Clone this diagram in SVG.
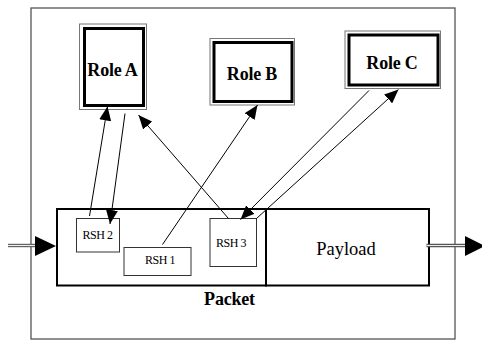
<svg xmlns="http://www.w3.org/2000/svg" width="482" height="341" viewBox="0 0 482 341">
<defs>
<style>
.frame{fill:#fff;stroke:#555;stroke-width:1.3}
.outer{fill:#fff;stroke:#777;stroke-width:1}
.inner{fill:#fff;stroke:#000;stroke-width:3}
.pk{fill:none;stroke:#000;stroke-width:2}
.rsh{fill:#fff;stroke:#333;stroke-width:1}
.role{font-family:"Liberation Serif","Times New Roman",serif;font-weight:bold;font-size:18px;text-anchor:middle;letter-spacing:-0.2px}
.small{font-family:"Liberation Serif","Times New Roman",serif;font-size:12px;text-anchor:middle;letter-spacing:-0.5px}
.pay{font-family:"Liberation Serif","Times New Roman",serif;font-size:18.5px;text-anchor:middle}
.conn{fill:none;stroke:#000;stroke-width:1}
.dbl{fill:none;stroke:#555;stroke-width:3.4}
.dblin{fill:none;stroke:#eee;stroke-width:1.2}
</style>
<marker id="ah" viewBox="0 0 14 12" refX="14" refY="6" markerWidth="14" markerHeight="12" markerUnits="userSpaceOnUse" orient="auto">
<path d="M0,0 L14,6 L0,12 z" fill="#000"/>
</marker>
</defs>
<rect width="482" height="341" fill="#fff"/>
<rect class="frame" x="31" y="8" width="424" height="331"/>

<g id="roleA">
<rect class="outer" x="79.5" y="24" width="67" height="85.5"/>
<rect class="inner" x="84.5" y="28.5" width="59" height="77"/>
<text class="role" x="112.5" y="76">Role A</text>
</g>
<g id="roleB">
<rect class="outer" x="210" y="38.5" width="84.5" height="66.5"/>
<rect class="inner" x="214" y="42.5" width="78" height="59"/>
<text class="role" x="252" y="80">Role B</text>
</g>
<g id="roleC">
<rect class="outer" x="345" y="31" width="95.5" height="57.5"/>
<rect class="inner" x="349" y="35" width="89" height="50"/>
<text class="role" x="392" y="69">Role C</text>
</g>

<g id="packet">
<rect class="pk" x="57" y="209" width="209" height="76.5"/>
<text class="role" x="229.5" y="305">Packet</text>
</g>
<g id="payload">
<rect class="pk" x="266" y="209" width="163" height="76.5"/>
<text class="pay" x="346" y="255">Payload</text>
</g>
<g id="rsh2">
<rect class="rsh" x="76.5" y="218.5" width="43" height="33.5"/>
<text class="small" x="97.5" y="238.5">RSH 2</text>
</g>
<g id="rsh1">
<rect class="rsh" x="124" y="247.5" width="67" height="28"/>
<text class="small" x="160" y="263.5">RSH 1</text>
</g>
<g id="rsh3">
<rect class="rsh" x="210" y="218.5" width="46.5" height="48"/>
<text class="small" x="231" y="246.5">RSH 3</text>
</g>

<g id="connectors">
<line class="conn" x1="89.5" y1="216" x2="107.5" y2="106.5" marker-end="url(#ah)"/>
<line class="conn" x1="125" y1="113.5" x2="110" y2="224" marker-end="url(#ah)"/>
<line class="conn" x1="228.5" y1="218.5" x2="138.5" y2="115" marker-end="url(#ah)"/>
<line class="conn" x1="162.5" y1="244.5" x2="257.5" y2="105" marker-end="url(#ah)"/>
<line class="conn" x1="369" y1="90.5" x2="240.5" y2="219.5" marker-end="url(#ah)"/>
<line class="conn" x1="256.5" y1="218.5" x2="398.5" y2="89.5" marker-end="url(#ah)"/>
<line class="dbl" x1="8" y1="245.5" x2="37" y2="245.5"/>
<line class="dblin" x1="8" y1="245.5" x2="37" y2="245.5"/>
<path d="M35,236 L56,246 L35,256 z" fill="#000"/>
<line class="dbl" x1="426.5" y1="245.5" x2="467" y2="245.5"/>
<line class="dblin" x1="426.5" y1="245.5" x2="467" y2="245.5"/>
<path d="M465,236 L485,246 L465,256 z" fill="#000"/>
</g>
</svg>
